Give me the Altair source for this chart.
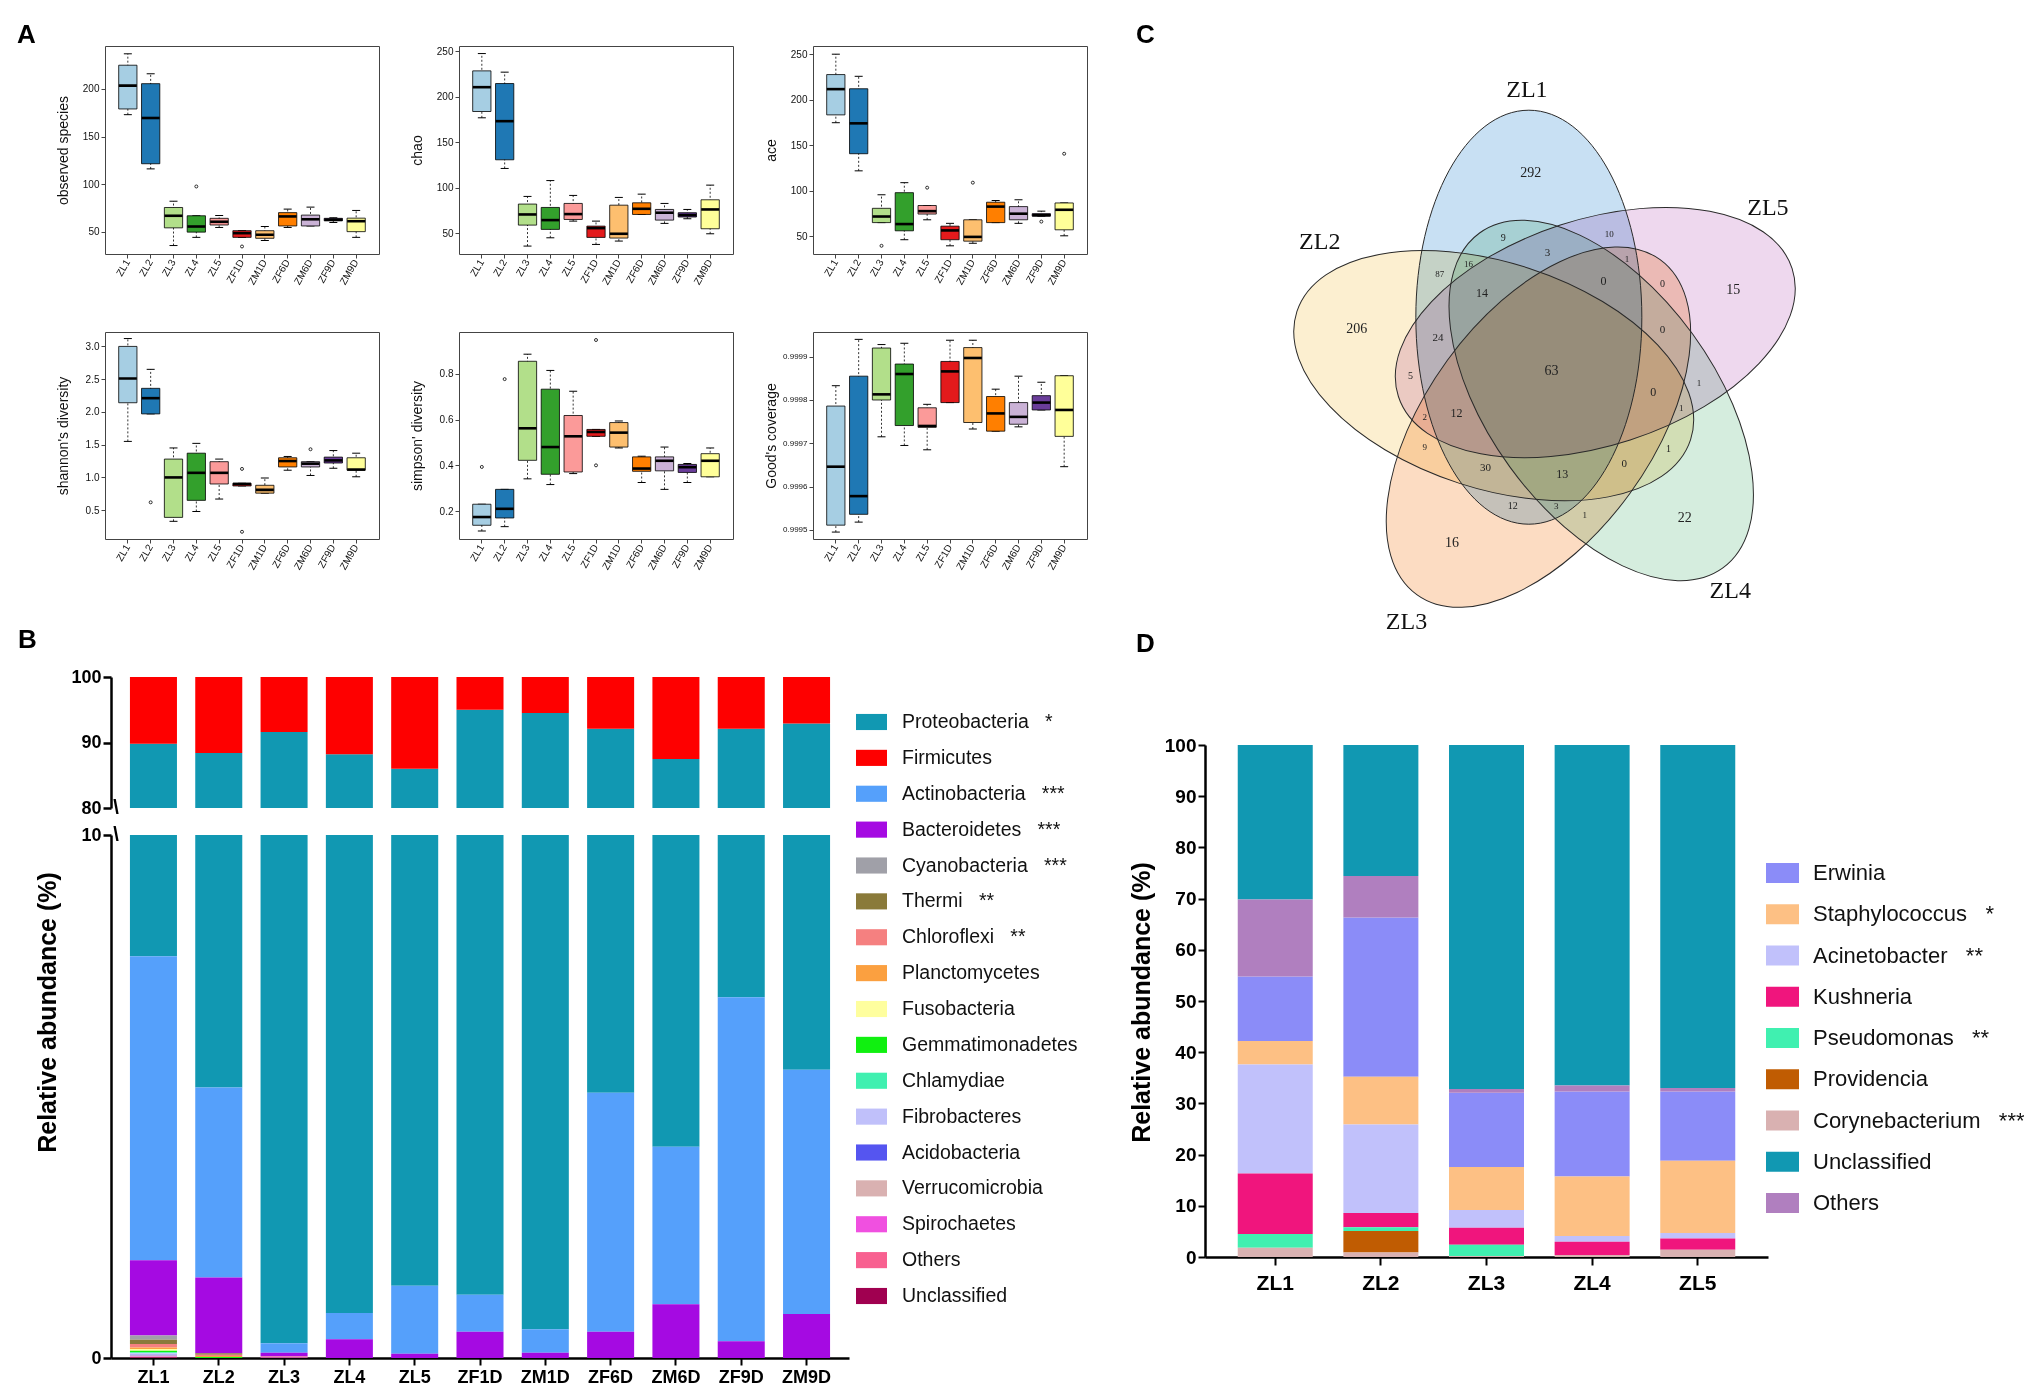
import math
import altair as alt
import numpy as np
import pandas as pd

# ---------------------------------------------------------------- canvas
W, H = 2016, 1380          # whole drawing, in view pixels
M = 8                      # page margin -> view origin


def V(p):
    """page pixel -> view pixel"""
    return p - M


SANS = "Liberation Sans, Arial, sans-serif"
SERIF = "Liberation Serif, Times New Roman, serif"

# ---------------------------------------------------------------- data: panel A
groups = ['ZL1', 'ZL2', 'ZL3', 'ZL4', 'ZL5', 'ZF1D', 'ZM1D', 'ZF6D', 'ZM6D', 'ZF9D', 'ZM9D']
box_colors = ['#a6cee3', '#1f78b4', '#b2df8a', '#33a02c', '#fb9a99', '#e31a1c',
              '#fdbf6f', '#ff7f00', '#cab2d6', '#6a3d9a', '#ffff99']

obs_lo = [173, 116, 35.4, 44, 54.4, 44, 40.7, 54.4, 56, 59.6, 44]
obs_q1 = [179, 121.4, 54, 49.5, 57, 44, 43, 56, 56, 61.4, 50]
obs_md = [203.5, 169.5, 66.7, 55.4, 60.4, 48.4, 46.7, 66, 63, 62.5, 61]
obs_q3 = [225, 205.6, 75.4, 66.7, 64, 51, 51, 70, 67.4, 64, 64.2]
obs_hi = [237, 216, 82, 66.7, 67, 51, 55.4, 73.7, 75.8, 64.6, 72.3]
obs_out_g = ['ZL4', 'ZF1D']
obs_out_v = [97.5, 34.4]

chao_lo = [176.9, 121.3, 36.1, 45.2, 63.5, 37.9, 41.6, 70.8, 61, 66.1, 49.6]
chao_q1 = [183.8, 130.8, 59.1, 54.4, 65.3, 45.6, 44.9, 70.8, 64.6, 68, 55.1]
chao_md = [210.5, 173.2, 70.8, 64.6, 71.2, 55.8, 49.6, 77, 72.7, 70.1, 76.3]
chao_q3 = [228.4, 214.5, 82.2, 78.5, 82.9, 58, 81, 83.6, 76.3, 72.7, 86.9]
chao_hi = [247.4, 227, 90.6, 108, 91.7, 63.5, 89.5, 93.1, 82.9, 76.3, 103]
chao_out_g = []
chao_out_v = []

ace_lo = [174.7, 121.8, 64.9, 46.1, 68, 39.4, 42.2, 64.9, 64.1, 72, 50.4]
ace_q1 = [183.3, 140.6, 64.9, 55.9, 74.3, 46.1, 44.5, 64.9, 68, 72, 57]
ace_md = [211.6, 174, 71.6, 63.3, 77.5, 56.3, 49.2, 82.5, 74.7, 73.1, 79]
ace_q3 = [227.6, 212, 80.6, 97.8, 83.7, 61, 68, 87.3, 82.5, 74.7, 86.5]
ace_hi = [250, 225.7, 95.5, 108.8, 83.7, 64.1, 68, 89.2, 90, 77.5, 86.5]
ace_out_g = ['ZL3', 'ZL5', 'ZM1D', 'ZF9D', 'ZM9D']
ace_out_v = [39.4, 103.3, 108.8, 66, 140.6]

sha_lo = [1.55, 1.97, 0.33, 0.48, 0.67, 0.87, 0.76, 1.11, 1.03, 1.14, 1.01]
sha_q1 = [2.14, 1.97, 0.39, 0.65, 0.90, 0.87, 0.76, 1.16, 1.16, 1.22, 1.11]
sha_md = [2.51, 2.21, 1.00, 1.07, 1.07, 0.90, 0.81, 1.25, 1.21, 1.26, 1.12]
sha_q3 = [3.00, 2.36, 1.28, 1.37, 1.24, 0.91, 0.88, 1.30, 1.24, 1.31, 1.30]
sha_hi = [3.12, 2.65, 1.45, 1.52, 1.28, 0.91, 0.99, 1.32, 1.24, 1.41, 1.37]
sha_out_g = ['ZL2', 'ZF1D', 'ZF1D', 'ZM6D']
sha_out_v = [0.62, 1.13, 0.17, 1.43]

sim_lo = [0.113, 0.132, 0.341, 0.316, 0.364, 0.527, 0.476, 0.325, 0.295, 0.325, 0.350]
sim_q1 = [0.138, 0.170, 0.422, 0.361, 0.371, 0.527, 0.480, 0.374, 0.376, 0.369, 0.350]
sim_md = [0.174, 0.210, 0.562, 0.480, 0.527, 0.546, 0.543, 0.386, 0.420, 0.392, 0.420]
sim_q3 = [0.230, 0.295, 0.855, 0.733, 0.618, 0.557, 0.587, 0.437, 0.437, 0.404, 0.451]
sim_hi = [0.230, 0.295, 0.886, 0.815, 0.724, 0.557, 0.594, 0.440, 0.480, 0.408, 0.476]
sim_out_g = ['ZL1', 'ZL2', 'ZF1D', 'ZF1D']
sim_out_v = [0.393, 0.777, 0.948, 0.400]

gc_lo = [0.999495, 0.999518, 0.999715, 0.999695, 0.999685, 0.999794, 0.999733, 0.999728, 0.999738, 0.999777, 0.999646]
gc_q1 = [0.999511, 0.999536, 0.999800, 0.999741, 0.999737, 0.999794, 0.999748, 0.999728, 0.999744, 0.999777, 0.999716]
gc_md = [0.999646, 0.999578, 0.999813, 0.999860, 0.999740, 0.999866, 0.999897, 0.999769, 0.999761, 0.999794, 0.999777]
gc_q3 = [0.999786, 0.999855, 0.999920, 0.999883, 0.999782, 0.999889, 0.999921, 0.999808, 0.999794, 0.999810, 0.999856]
gc_hi = [0.999833, 0.999940, 0.999928, 0.999931, 0.999790, 0.999938, 0.999938, 0.999825, 0.999855, 0.999841, 0.999856]
gc_out_g = []
gc_out_v = []

# ---------------------------------------------------------------- data: panel B
b_samples = ['ZL1', 'ZL2', 'ZL3', 'ZL4', 'ZL5', 'ZF1D', 'ZM1D', 'ZF6D', 'ZM6D', 'ZF9D', 'ZM9D']
phyla = ['Proteobacteria', 'Firmicutes', 'Actinobacteria', 'Bacteroidetes', 'Cyanobacteria',
         'Thermi', 'Chloroflexi', 'Planctomycetes', 'Fusobacteria', 'Gemmatimonadetes',
         'Chlamydiae', 'Fibrobacteres', 'Acidobacteria', 'Verrucomicrobia', 'Spirochaetes',
         'Others', 'Unclassified']
phyla_stars = ['*', '', '***', '***', '***', '**', '**', '', '', '', '', '', '', '', '', '', '']
phyla_colors = ['#1198b2', '#fe0000', '#55a0fb', '#a50ae2', '#a0a0a8', '#8a7a3a', '#f58080',
                '#fba040', '#fefe9e', '#10f010', '#40f0b0', '#c0c0fa', '#5555f0', '#d9b1b1',
                '#f050e0', '#f86090', '#a00050']
# stacking position, bottom (0) to top
phyla_stack = [15, 16, 14, 13, 12, 11, 10, 9, 8, 7, 6, 5, 4, 3, 2, 1, 0]
b_values = {
    'Proteobacteria':   [82.12, 83.23, 91.32, 87.34, 84.62, 93.79, 93.95, 87.03, 83.46, 85.20, 87.39],
    'Firmicutes':       [10.2, 11.6, 8.4, 11.8, 14.0, 5.0, 5.5, 7.9, 12.5, 7.9, 7.1],
    'Actinobacteria':   [5.81, 3.63, 0.18, 0.50, 1.30, 0.71, 0.45, 4.57, 3.01, 6.58, 4.67],
    'Bacteroidetes':    [1.44, 1.45, 0.07, 0.36, 0.08, 0.50, 0.10, 0.50, 1.03, 0.32, 0.84],
    'Cyanobacteria':    [0.08, 0, 0, 0, 0, 0, 0, 0, 0, 0, 0],
    'Thermi':           [0.08, 0.03, 0, 0, 0, 0, 0, 0, 0, 0, 0],
    'Chloroflexi':      [0.07, 0.02, 0.02, 0, 0, 0, 0, 0, 0, 0, 0],
    'Planctomycetes':   [0.03, 0.02, 0, 0, 0, 0, 0, 0, 0, 0, 0],
    'Fusobacteria':     [0.03, 0, 0, 0, 0, 0, 0, 0, 0, 0, 0],
    'Gemmatimonadetes': [0.03, 0.02, 0, 0, 0, 0, 0, 0, 0, 0, 0],
    'Chlamydiae':       [0.02, 0, 0, 0, 0, 0, 0, 0, 0, 0, 0],
    'Fibrobacteres':    [0.03, 0, 0, 0, 0, 0, 0, 0, 0, 0, 0],
    'Acidobacteria':    [0.01, 0, 0, 0, 0, 0, 0, 0, 0, 0, 0],
    'Verrucomicrobia':  [0.02, 0, 0, 0, 0, 0, 0, 0, 0, 0, 0],
    'Spirochaetes':     [0.01, 0, 0.01, 0, 0, 0, 0, 0, 0, 0, 0],
    'Others':           [0.01, 0, 0, 0, 0, 0, 0, 0, 0, 0, 0],
    'Unclassified':     [0.01, 0, 0, 0, 0, 0, 0, 0, 0, 0, 0],
}

# ---------------------------------------------------------------- data: panel C (Venn)
venn_sets = ['ZL1', 'ZL5', 'ZL4', 'ZL3', 'ZL2']
venn_colors = ['#c8e0f3', '#eed8ee', '#d5edde', '#fcdcc2', '#fcefd0']
venn_unique = [292, 15, 22, 16, 206]
venn_type_a = [14, 0, 0, 13, 12]
venn_type_b = [3, 0, 0, 30, 24]
venn_type_c = [87, 10, 1, 1, 9]
venn_type_d = [16, 1, 1, 3, 2]
venn_type_e = [9, 0, 1, 12, 5]
venn_core = 63

# ---------------------------------------------------------------- data: panel D
d_samples = ['ZL1', 'ZL2', 'ZL3', 'ZL4', 'ZL5']
genera = ['Erwinia', 'Staphylococcus', 'Acinetobacter', 'Kushneria', 'Pseudomonas',
          'Providencia', 'Corynebacterium', 'Unclassified', 'Others']
genera_stars = ['', '*', '**', '', '**', '', '***', '', '']
genera_colors = ['#8b8cf8', '#fdc084', '#c1c1fb', '#f0157d', '#40f0b0', '#c05c02',
                 '#d9b1b1', '#1198b2', '#b07fbf']
genera_stack = [6, 5, 4, 3, 2, 1, 0, 8, 7]
d_values = {
    'Erwinia':         [12.6, 31.1, 14.5, 16.6, 13.5],
    'Staphylococcus':  [4.6, 9.3, 8.4, 11.6, 14.1],
    'Acinetobacter':   [21.3, 17.3, 3.5, 1.1, 1.1],
    'Kushneria':       [11.8, 2.8, 3.3, 2.6, 2.2],
    'Pseudomonas':     [2.7, 0.7, 2.2, 0.0, 0.0],
    'Providencia':     [0.0, 4.2, 0.0, 0.0, 0.0],
    'Corynebacterium': [1.8, 0.9, 0.2, 0.4, 1.4],
    'Unclassified':    [30.2, 25.6, 67.2, 66.5, 67.0],
    'Others':          [15.0, 8.1, 0.7, 1.2, 0.7],
}

# ================================================================= layout
A_COLS = [105, 459, 813]
A_W = 274
A_ROWS = [(46, 254), (332, 539)]

layers = []


def box_panel(lo, q1, md, q3, hi, out_g, out_v, domain, ticks, fmt, title, x0, y0, y1, lab=10):
    x1 = x0 + A_W

    def xs():
        return alt.Scale(type='band', domain=groups, range=[V(x0), V(x1)],
                         paddingInner=0.2, paddingOuter=0.6)

    def ys():
        return alt.Scale(domain=domain, range=[V(y1), V(y0)], nice=False, zero=False)

    df = pd.DataFrame(dict(g=groups, lo=lo, q1=q1, md=md, q3=q3, hi=hi, col=box_colors))
    base = alt.Chart(df)
    frame_top = alt.Axis(orient='top', offset=-V(y0), labels=False, ticks=False, title=None,
                         domainColor='#444', domainWidth=1, grid=False)
    frame_right = alt.Axis(orient='right', offset=V(x1) - W, labels=False, ticks=False, title=None,
                           domainColor='#444', domainWidth=1, grid=False)
    whisk = base.mark_rule(color='black', strokeWidth=0.8, strokeDash=[2, 2]).encode(
        x=alt.X('g:N', scale=xs(), axis=frame_top),
        y=alt.Y('lo:Q', scale=ys(), axis=frame_right),
        y2='hi:Q')
    caps = base.transform_fold(['lo', 'hi'], as_=['k', 'v']).mark_tick(
        color='black', thickness=1, size=8, opacity=1).encode(
        x=alt.X('g:N', scale=xs(), axis=None),
        y=alt.Y('v:Q', scale=ys(), axis=None))
    ax_x = alt.Axis(orient='bottom', offset=V(y1) - H, labelAngle=300, labelAlign='right',
                    labelBaseline='middle', labelFontSize=10, labelFont=SANS, labelColor='#111',
                    tickSize=4, tickColor='#444', domainColor='#444', domainWidth=1,
                    labelPadding=2, title=None, labelOverlap=False, grid=False)
    ax_y = alt.Axis(orient='left', offset=-V(x0), values=ticks, format=fmt, labelFontSize=lab,
                    labelFont=SANS, labelColor='#111', tickSize=4, tickColor='#444',
                    domainColor='#444', domainWidth=1, labelPadding=2, grid=False,
                    title=title, titleX=-42, titleY=V((y0 + y1) / 2), titleAngle=270,
                    titleBaseline='middle', titleAlign='center', titleFont=SANS,
                    titleFontSize=14, titleFontWeight='normal', titleColor='#111')
    box = base.mark_bar(stroke='black', strokeWidth=0.8).encode(
        x=alt.X('g:N', scale=xs(), axis=ax_x),
        y=alt.Y('q1:Q', scale=ys(), axis=ax_y),
        y2='q3:Q',
        fill=alt.Fill('col:N', scale=None))
    med = base.mark_tick(color='black', thickness=2.6, size=18, opacity=1).encode(
        x=alt.X('g:N', scale=xs(), axis=None),
        y=alt.Y('md:Q', scale=ys(), axis=None))
    res = [whisk, caps, box, med]
    if out_g:
        odf = pd.DataFrame(dict(g=out_g, v=out_v))
        pts = alt.Chart(odf).mark_point(shape='circle', size=9, filled=False, color='black',
                                        strokeWidth=0.8, opacity=1).encode(
            x=alt.X('g:N', scale=xs(), axis=None),
            y=alt.Y('v:Q', scale=ys(), axis=None))
        res.append(pts)
    return res


layers += box_panel(obs_lo, obs_q1, obs_md, obs_q3, obs_hi, obs_out_g, obs_out_v,
                    [26.5, 245.2], [50, 100, 150, 200], 'd', 'observed species',
                    A_COLS[0], *A_ROWS[0])
layers += box_panel(chao_lo, chao_q1, chao_md, chao_q3, chao_hi, chao_out_g, chao_out_v,
                    [27.4, 255.7], [50, 100, 150, 200, 250], 'd', 'chao',
                    A_COLS[1], *A_ROWS[0])
layers += box_panel(ace_lo, ace_q1, ace_md, ace_q3, ace_hi, ace_out_g, ace_out_v,
                    [30.4, 259], [50, 100, 150, 200, 250], 'd', 'ace',
                    A_COLS[2], *A_ROWS[0])
layers += box_panel(sha_lo, sha_q1, sha_md, sha_q3, sha_hi, sha_out_g, sha_out_v,
                    [0.06, 3.22], [0.5, 1.0, 1.5, 2.0, 2.5, 3.0], '.1f', "shannon's diversity",
                    A_COLS[0], *A_ROWS[1])
layers += box_panel(sim_lo, sim_q1, sim_md, sim_q3, sim_hi, sim_out_g, sim_out_v,
                    [0.078, 0.983], [0.2, 0.4, 0.6, 0.8], '.1f', "simpson' diversity",
                    A_COLS[1], *A_ROWS[1])
layers += box_panel(gc_lo, gc_q1, gc_md, gc_q3, gc_hi, gc_out_g, gc_out_v,
                    [0.999479, 0.999957], [0.9995, 0.9996, 0.9997, 0.9998, 0.9999], '.4f',
                    "Good's coverage", A_COLS[2], *A_ROWS[1], lab=8)

# ================================================================= panel B
rows = []
for i, p in enumerate(phyla):
    for j, s in enumerate(b_samples):
        rows.append(dict(sample=s, phylum=p, value=b_values[p][j], col=phyla_colors[i],
                         ord=phyla_stack[i]))
bdf = pd.DataFrame(rows)
B_X0, B_X1 = 111, 849
B_TOP = (677, 808)    # 100 .. 80
B_BOT = (835, 1358)   # 10 .. 0


def bxs():
    return alt.Scale(type='band', domain=b_samples, range=[V(B_X0), V(B_X1)],
                     paddingInner=0.28, paddingOuter=0.29)


def b_top_ys():
    return alt.Scale(domain=[80, 100], range=[V(B_TOP[1]), V(B_TOP[0])], clamp=True,
                     nice=False, zero=False)


def b_bot_ys():
    return alt.Scale(domain=[0, 10], range=[V(B_BOT[1]), V(B_BOT[0])], clamp=True,
                     nice=False, zero=False)


bold_axis = dict(labelFont=SANS, labelFontWeight='bold', labelColor='black',
                 tickColor='black', domainColor='black', grid=False)

b_top = alt.Chart(bdf).mark_bar().encode(
    x=alt.X('sample:N', scale=bxs(), axis=None),
    y=alt.Y('value:Q', stack='zero', scale=b_top_ys(),
            axis=alt.Axis(orient='left', offset=-V(B_X0), values=[80, 90, 100], labelFontSize=18,
                          tickSize=8, tickWidth=2.5, domainWidth=2.5, labelPadding=2, title=None,
                          **bold_axis)),
    order=alt.Order('ord:Q', sort='ascending'),
    fill=alt.Fill('col:N', scale=None))

b_bot = alt.Chart(bdf).mark_bar().encode(
    x=alt.X('sample:N', scale=bxs(),
            axis=alt.Axis(orient='bottom', offset=V(B_BOT[1]) - H, labelFontSize=18, tickSize=7,
                          tickWidth=2, domainWidth=2.5, labelPadding=3, labelAngle=0,
                          labelAlign='center', labelBaseline='top', title=None,
                          labelOverlap=False, **bold_axis)),
    y=alt.Y('value:Q', stack='zero', scale=b_bot_ys(),
            axis=alt.Axis(orient='left', offset=-V(B_X0), values=[0, 10], labelFontSize=18,
                          tickSize=8, tickWidth=2.5, domainWidth=2.5, labelPadding=2,
                          title='Relative abundance (%)', titleX=V(47) - V(B_X0),
                          titleY=V(1012), titleAngle=270, titleBaseline='middle',
                          titleAlign='center', titleFont=SANS, titleFontSize=25,
                          titleFontWeight='bold', titleColor='black', **bold_axis)),
    order=alt.Order('ord:Q', sort='ascending'),
    fill=alt.Fill('col:N', scale=None))
layers += [b_top, b_bot]

# axis-break marks
brk_top = alt.Chart(pd.DataFrame({'v': [80]})).mark_text(
    text='\\', fontSize=20, fontWeight='bold', font=SANS, align='center', baseline='middle').encode(
    x=alt.value(V(B_X0 + 5)), y=alt.Y('v:Q', scale=b_top_ys(), axis=None))
brk_bot = alt.Chart(pd.DataFrame({'v': [10]})).mark_text(
    text='\\', fontSize=20, fontWeight='bold', font=SANS, align='center', baseline='middle').encode(
    x=alt.value(V(B_X0 + 5)), y=alt.Y('v:Q', scale=b_bot_ys(), axis=None))
layers += [brk_top, brk_bot]

# legend B
NB = '\u00a0'
bleg = pd.DataFrame(dict(name=phyla, col=phyla_colors,
                         label=[p + (NB * 3 + s if s else '') for p, s in zip(phyla, phyla_stars)]))


def bleg_y():
    return alt.Y('name:N', sort=phyla, scale=alt.Scale(type='point', domain=phyla,
                                                        range=[V(722), V(1296)], padding=0),
                 axis=None)


RECT_B = 'M-1,-0.52L1,-0.52L1,0.52L-1,0.52Z'
layers.append(alt.Chart(bleg).mark_point(shape=RECT_B, filled=True, size=31 * 31, opacity=1,
                                         strokeWidth=0).encode(
    x=alt.value(V(871.5)), y=bleg_y(), fill=alt.Fill('col:N', scale=None)))
layers.append(alt.Chart(bleg).mark_text(align='left', baseline='middle', font=SANS,
                                        fontSize=19.5, color='#111').encode(
    x=alt.value(V(902)), y=bleg_y(), text='label:N'))

# ================================================================= panel D
rows = []
for i, g in enumerate(genera):
    for j, s in enumerate(d_samples):
        rows.append(dict(sample=s, genus=g, value=d_values[g][j], col=genera_colors[i],
                         ord=genera_stack[i]))
ddf = pd.DataFrame(rows)
D_X0, D_X1 = 1205, 1768
D_Y = (745, 1257)  # 100 .. 0

d_chart = alt.Chart(ddf).mark_bar().encode(
    x=alt.X('sample:N',
            scale=alt.Scale(type='band', domain=d_samples, range=[V(D_X0), V(D_X1)],
                            paddingInner=0.29, paddingOuter=0.31),
            axis=alt.Axis(orient='bottom', offset=V(D_Y[1]) - H, labelFontSize=21, tickSize=8,
                          tickWidth=2, domainWidth=2.5, labelPadding=7, labelAngle=0,
                          labelAlign='center', labelBaseline='top', title=None,
                          labelOverlap=False, **bold_axis)),
    y=alt.Y('value:Q', stack='zero',
            scale=alt.Scale(domain=[0, 100], range=[V(D_Y[1]), V(D_Y[0])], nice=False, zero=False),
            axis=alt.Axis(orient='left', offset=-V(D_X0), values=list(range(0, 101, 10)),
                          labelFontSize=19, tickSize=7, tickWidth=2, domainWidth=2.5,
                          labelPadding=2, title='Relative abundance (%)',
                          titleX=V(1141) - V(D_X0), titleY=V(1002), titleAngle=270,
                          titleBaseline='middle', titleAlign='center', titleFont=SANS,
                          titleFontSize=25, titleFontWeight='bold', titleColor='black',
                          **bold_axis)),
    order=alt.Order('ord:Q', sort='ascending'),
    fill=alt.Fill('col:N', scale=None))
layers.append(d_chart)

dleg = pd.DataFrame(dict(name=genera, col=genera_colors,
                         label=[g + (NB * 3 + s if s else '') for g, s in zip(genera, genera_stars)]))


def dleg_y():
    return alt.Y('name:N', sort=genera, scale=alt.Scale(type='point', domain=genera,
                                                         range=[V(873), V(1203)], padding=0),
                 axis=None)


RECT_D = 'M-1,-0.6L1,-0.6L1,0.6L-1,0.6Z'
layers.append(alt.Chart(dleg).mark_point(shape=RECT_D, filled=True, size=33 * 33, opacity=1,
                                         strokeWidth=0).encode(
    x=alt.value(V(1782.5)), y=dleg_y(), fill=alt.Fill('col:N', scale=None)))
layers.append(alt.Chart(dleg).mark_text(align='left', baseline='middle', font=SANS,
                                        fontSize=22, color='#111').encode(
    x=alt.value(V(1813)), y=dleg_y(), text='label:N'))

# ================================================================= panel C (Venn)
VC = (1551.5, 370.6)          # diagram centre (page px)
VR = 330                      # half extent of the venn scale, px
SEMI_A, SEMI_B = 207, 113     # ellipse semi axes, px
CENTRE_DIST, CENTRE_TURN, AXIS_TURN = 58, 17, -6


def vxs():
    return alt.Scale(domain=[-VR, VR], range=[V(VC[0] - VR), V(VC[0] + VR)], nice=False, zero=False)


def vys():
    return alt.Scale(domain=[-VR, VR], range=[V(VC[1] + VR), V(VC[1] - VR)], nice=False, zero=False)


def base_angle(k):
    return 96 - 72 * k


ell = []
for k, name in enumerate(venn_sets):
    a = math.radians(base_angle(k) + CENTRE_TURN)
    orient = base_angle(k) + AXIS_TURN
    ell.append(dict(name=name, col=venn_colors[k], cx=CENTRE_DIST * math.cos(a),
                    cy=CENTRE_DIST * math.sin(a), rot=(360 - orient) % 360))
ell = pd.DataFrame(ell)
r = SEMI_B / SEMI_A
c = 0.5523
ELLIPSE = (f'M1,0C1,{c*r:.4f},{c:.4f},{r:.4f},0,{r:.4f}'
           f'C{-c:.4f},{r:.4f},-1,{c*r:.4f},-1,0'
           f'C-1,{-c*r:.4f},{-c:.4f},{-r:.4f},0,{-r:.4f}'
           f'C{c:.4f},{-r:.4f},1,{-c*r:.4f},1,0Z')
ESIZE = (2 * SEMI_A) ** 2
layers.append(alt.Chart(ell).mark_point(shape=ELLIPSE, filled=True, size=ESIZE, opacity=1,
                                        fillOpacity=1, strokeWidth=0, blend='multiply').encode(
    x=alt.X('cx:Q', scale=vxs(), axis=None), y=alt.Y('cy:Q', scale=vys(), axis=None),
    fill=alt.Fill('col:N', scale=None), angle=alt.Angle('rot:Q', scale=None)))
layers.append(alt.Chart(ell).mark_point(shape=ELLIPSE, filled=False, size=ESIZE, opacity=1,
                                        color='#2a2a2a', strokeWidth=1).encode(
    x=alt.X('cx:Q', scale=vxs(), axis=None), y=alt.Y('cy:Q', scale=vys(), axis=None),
    angle=alt.Angle('rot:Q', scale=None)))

# region labels: type -> (angle offset from the set's direction, radius px, font size)
region_layout = {'U': (0, 199, 14), 'A': (36, 104, 12), 'B': (-4, 118, 11),
                 'C': (43, 148, 9), 'D': (32, 135, 9), 'E': (14, 141, 10)}
region_counts = {'U': venn_unique, 'A': venn_type_a, 'B': venn_type_b,
                 'C': venn_type_c, 'D': venn_type_d, 'E': venn_type_e}
lab = [dict(n=str(venn_core), x=0.0, y=0.0, fs=14)]
for t, counts in region_counts.items():
    off, rad, fs = region_layout[t]
    for k, n in enumerate(counts):
        a = math.radians(base_angle(k) + off)
        lab.append(dict(n=str(n), x=rad * math.cos(a), y=rad * math.sin(a), fs=fs))
lab = pd.DataFrame(lab)
layers.append(alt.Chart(lab).mark_text(font=SERIF, color='#222', align='center',
                                       baseline='middle').encode(
    x=alt.X('x:Q', scale=vxs(), axis=None), y=alt.Y('y:Q', scale=vys(), axis=None),
    text='n:N', size=alt.Size('fs:Q', scale=None)))

name_angle = [95, 37, -51, -120, 151]
name_radius = [282, 271, 284, 290, 265]
nm = pd.DataFrame([dict(n=s, x=name_radius[k] * math.cos(math.radians(name_angle[k])),
                        y=name_radius[k] * math.sin(math.radians(name_angle[k])))
                   for k, s in enumerate(venn_sets)])
layers.append(alt.Chart(nm).mark_text(font=SERIF, fontSize=24, color='#111', align='center',
                                      baseline='middle').encode(
    x=alt.X('x:Q', scale=vxs(), axis=None), y=alt.Y('y:Q', scale=vys(), axis=None),
    text='n:N'))

# ================================================================= panel letters
for letter, (lx, ly) in {'A': (17, 43), 'B': (18, 648), 'C': (1136, 43), 'D': (1136, 652)}.items():
    layers.append(alt.Chart(pd.DataFrame({'t': [letter]})).mark_text(
        font=SANS, fontSize=26, fontWeight='bold', color='black', align='left',
        baseline='alphabetic').encode(x=alt.value(V(lx)), y=alt.value(V(ly)), text='t:N'))

chart = alt.layer(*layers).resolve_scale(
    x='independent', y='independent'
).resolve_axis(
    x='independent', y='independent'
).properties(
    width=W, height=H, padding=0, autosize=alt.AutoSizeParams(type='none'),
    background='white'
).configure_view(stroke=None).configure_axis(grid=False)

chart.save("out.html", embed_options={"renderer": "svg", "actions": False})
